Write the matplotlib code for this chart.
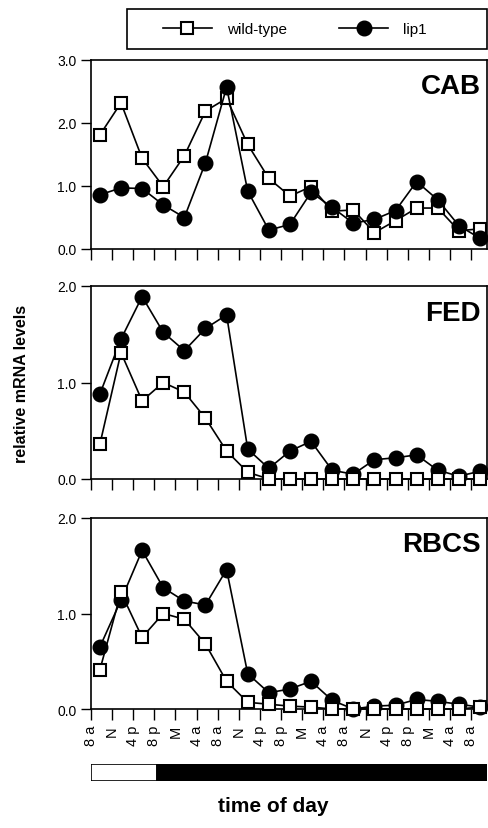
import matplotlib.pyplot as plt
from matplotlib.patches import Rectangle

plt.rcParams["font.family"] = ["Liberation Sans", "DejaVu Sans"]

# time points every 4 h starting at 8 am
time_labels = ["8 a", "N", "4 p", "8 p", "M", "4 a", "8 a", "N", "4 p", "8 p",
               "M", "4 a", "8 a", "N", "4 p", "8 p", "M", "4 a", "8 a"]

cab_wt = [1.81, 2.32, 1.44, 0.99, 1.48, 2.19, 2.39, 1.66, 1.12, 0.84,
          0.99, 0.60, 0.62, 0.26, 0.45, 0.65, 0.65, 0.29, 0.32]
cab_lip1 = [0.86, 0.97, 0.96, 0.70, 0.50, 1.37, 2.57, 0.92, 0.30, 0.39,
            0.90, 0.66, 0.41, 0.47, 0.61, 1.07, 0.78, 0.37, 0.17]

fed_wt = [0.36, 1.31, 0.81, 1.00, 0.90, 0.63, 0.29, 0.07, 0.0, 0.0,
          0.0, 0.0, 0.0, 0.0, 0.0, 0.0, 0.0, 0.0, 0.0]
fed_lip1 = [0.88, 1.45, 1.89, 1.52, 1.33, 1.56, 1.70, 0.31, 0.11, 0.29,
            0.39, 0.09, 0.05, 0.20, 0.22, 0.25, 0.09, 0.03, 0.08]

rbcs_wt = [0.41, 1.22, 0.75, 1.00, 0.94, 0.68, 0.29, 0.07, 0.05, 0.03,
           0.02, 0.0, 0.0, 0.0, 0.0, 0.0, 0.0, 0.0, 0.02]
rbcs_lip1 = [0.65, 1.14, 1.66, 1.27, 1.13, 1.09, 1.46, 0.37, 0.17, 0.21,
             0.29, 0.09, 0.0, 0.03, 0.04, 0.10, 0.08, 0.05, 0.02]

panels = [
    ("CAB", cab_wt, cab_lip1, 3.0, True),
    ("FED", fed_wt, fed_lip1, 2.0, False),
    ("RBCS", rbcs_wt, rbcs_lip1, 2.0, False),
]

# light period ends shortly after the first 8 p
lights_off = 2.7

W, H = 489, 829
fig = plt.figure(figsize=(W / 100, H / 100), dpi=100)

x = list(range(len(time_labels)))
xmin, xmax = -0.42, 18.33
tick_pos = [i - 0.42 for i in x]

# (top, bottom) in pixels for each panel
boxes = [(61, 250), (287, 480), (519, 710)]
left, right = 91, 487

for (name, wt, lip, ymax, lip_on_top), (top, bot) in zip(panels, boxes):
    ax = fig.add_axes([left / W, 1 - bot / H, (right - left) / W, (bot - top) / H])
    z_wt, z_lip = (2, 3) if lip_on_top else (3, 2)
    ax.plot(x, lip, "-o", color="black", lw=1.2, ms=10.5, mfc="black",
            mec="black", zorder=z_lip, clip_on=False, label="lip1")
    ax.plot(x, wt, "-s", color="black", lw=1.2, ms=8.5, mfc="white",
            mec="black", mew=1.5, zorder=z_wt, clip_on=False, label="wild-type")
    ax.set_xlim(xmin, xmax)
    ax.set_ylim(0, ymax)
    ax.set_yticks([i * 1.0 for i in range(int(ymax) + 1)])
    ax.set_yticklabels([f"{i:.1f}" for i in range(int(ymax) + 1)], fontsize=10)
    ax.set_xticks(tick_pos)
    ax.tick_params(axis="both", direction="out", length=7, width=1, color="black")
    ax.tick_params(axis="x", length=8)
    if name == "RBCS":
        ax.set_xticklabels(time_labels, rotation=90, fontsize=10.5)
    else:
        ax.set_xticklabels([])
    for s in ax.spines.values():
        s.set_linewidth(1.2)
    ax.text(0.985, 0.93, name, transform=ax.transAxes, ha="right", va="top",
            fontsize=20, fontweight="bold")
    if name == "FED":
        ax.set_ylabel("relative mRNA levels", fontsize=11.5, fontweight="bold",
                      labelpad=20)
    if name == "CAB":
        handles, labels = ax.get_legend_handles_labels()

# light / dark bar
bar = fig.add_axes([left / W, 1 - 782 / H, (right - left) / W, 17 / H])
bar.set_xlim(xmin, xmax)
bar.set_ylim(0, 1)
bar.add_patch(Rectangle((xmin, 0), lights_off - xmin, 1, facecolor="white",
                        edgecolor="black", lw=1.2))
bar.add_patch(Rectangle((lights_off, 0), xmax - lights_off, 1, facecolor="black",
                        edgecolor="black", lw=1.2))
bar.axis("off")

fig.text(273 / W, 1 - 807 / H, "time of day", ha="center", va="center",
         fontsize=15, fontweight="bold")

# legend box at the top
fig.patches.append(Rectangle((127 / W, 1 - 50 / H), 360 / W, 40 / H,
                             transform=fig.transFigure, facecolor="white",
                             edgecolor="black", lw=1.2))
fig.legend(handles[::-1], labels[::-1], loc="center",
           bbox_to_anchor=(295 / W, 1 - 30 / H), ncol=2, fontsize=11,
           frameon=False, handlelength=3.2, handletextpad=1.0,
           columnspacing=3.4)

fig.savefig("out.png", dpi=100)
